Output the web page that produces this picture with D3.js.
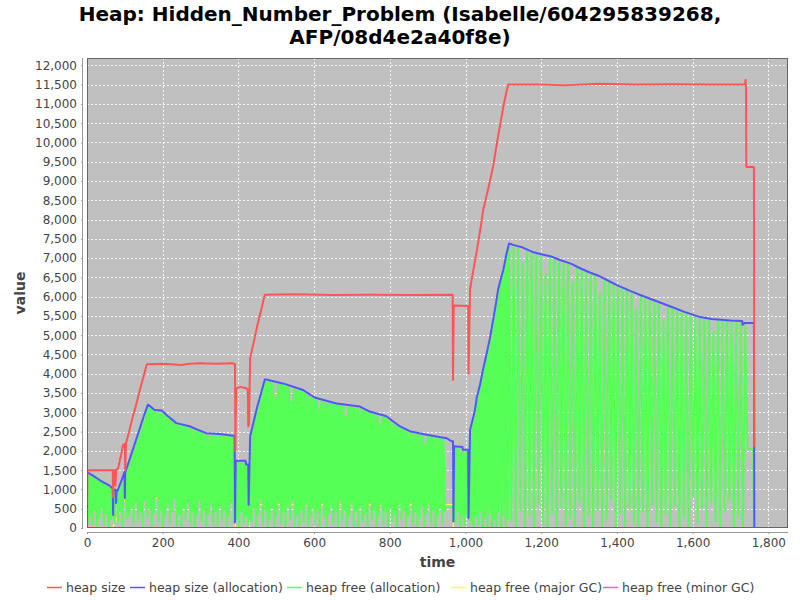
<!DOCTYPE html>
<html>
<head>
<meta charset="utf-8">
<script src="https://cdn.jsdelivr.net/npm/d3@7"></script>
<style>
  html, body { margin: 0; padding: 0; background: #ffffff; }
  svg { display: block; font-family: "DejaVu Sans", sans-serif; }
</style>
</head>
<body>
<svg id="chart" width="800" height="600"></svg>
<script>
// ---------- data (time, value) ----------
const titleLines = ["Heap: Hidden_Number_Problem (Isabelle/604295839268,", "AFP/08d4e2a40f8e)"];
const seriesNames = ["heap size", "heap size (allocation)", "heap free (allocation)", "heap free (major GC)", "heap free (minor GC)"];
const seriesColors = ["#ff5555", "#5555ff", "#55ff55", "#ffff55", "#ff55ff"];
const xTicks = [0, 200, 400, 600, 800, 1000, 1200, 1400, 1600, 1800];
const yTicks = [0,500,1000,1500,2000,2500,3000,3500,4000,4500,5000,5500,6000,6500,7000,7500,8000,8500,9000,9500,10000,10500,11000,11500,12000];

const heapSize = [[0,0],[1,1500],[68,1500],[69,800],[71,1480],[74,1500],[75,1100],[77,1500],[82,1550],[88,1800],[95,2150],[100,2180],[101,1500],[103,2200],[110,2450],[120,2850],[130,3200],[140,3600],[150,3950],[158,4250],[200,4260],[230,4240],[250,4230],[270,4260],[300,4270],[340,4260],[385,4270],[391,4250],[392,1990],[394,3620],[405,3660],[418,3630],[425,3600],[426,2630],[428,2700],[431,4400],[440,4800],[450,5250],[460,5650],[466,5900],[470,6050],[550,6060],[650,6040],[750,6050],[850,6040],[966,6050],[967,3840],[969,5770],[1007,5760],[1008,4000],[1012,6200],[1020,6650],[1030,7200],[1040,7800],[1047,8260],[1060,8800],[1073,9380],[1085,10100],[1100,10930],[1108,11300],[1113,11500],[1200,11500],[1260,11480],[1350,11520],[1450,11500],[1550,11510],[1650,11500],[1738,11500],[1740,11620],[1741,11380],[1742,9360],[1762,9360],[1763,2100]];

const heapAlloc = [[0,1450],[20,1330],[40,1200],[60,1100],[68,1020],[69,340],[70,990],[76,990],[77,650],[78,960],[80,950],[90,1200],[99,1450],[100,780],[101,1450],[110,1700],[120,2000],[130,2300],[140,2600],[150,2900],[161,3200],[179,3060],[198,3050],[210,2930],[236,2720],[271,2640],[290,2560],[315,2460],[350,2440],[386,2390],[390,2390],[391,145],[393,1745],[419,1745],[420,1650],[426,1650],[427,600],[431,2380],[440,2750],[450,3150],[460,3500],[470,3860],[518,3750],[571,3580],[597,3410],[606,3370],[659,3230],[721,3150],[747,3020],[791,2900],[826,2640],[853,2510],[897,2420],[950,2330],[963,2250],[967,2250],[968,170],[970,2120],[992,2100],[993,2030],[1007,2030],[1008,260],[1012,2550],[1020,2850],[1025,3070],[1030,3400],[1038,3700],[1045,4050],[1056,4530],[1065,4950],[1073,5400],[1080,5800],[1086,6180],[1093,6450],[1100,6700],[1108,7100],[1115,7380],[1130,7330],[1150,7280],[1180,7150],[1200,7100],[1224,7050],[1250,6950],[1280,6850],[1300,6750],[1330,6620],[1350,6550],[1380,6400],[1400,6300],[1435,6150],[1460,6050],[1500,5900],[1540,5750],[1580,5600],[1620,5470],[1650,5420],[1700,5380],[1731,5370],[1732,5270],[1738,5320],[1762,5320],[1763,0]];

const freeAlloc = [
[0,1440],[3,100],[6,1410],[9,300],[12,1390],[15,50],[18,1360],[21,450],[24,1330],[27,0],[30,1300],[33,250],[36,1270],[39,500],[42,1230],[45,80],[48,1180],[51,350],[54,1150],[57,0],[60,1100],[63,200],[66,1060],[68,300],
[69,330],[71,950],[73,100],[75,980],[77,600],[79,960],[82,150],[85,1080],[88,400],[91,1200],[94,0],[97,1350],[100,750],[102,1440],[105,200],
[108,1650],[111,300],[114,1780],[117,500],[120,1950],[123,100],[126,2100],[129,650],[132,2250],[135,200],[138,2500],[141,400],[144,2650],[147,0],[150,2850],[153,700],[156,3000],[159,250],[162,3180],[165,500],[168,3120],[171,0],[174,3080],[177,350],[180,3050],[183,800],[186,3000],[189,150],[192,3000],[195,450],[198,3020],[201,0],[204,2980],[207,300],[210,2940],[213,600],[216,2900],[219,100],[222,2850],[225,400],[228,2820],[231,750],[234,2760],[237,50],[240,2720],[243,350],[246,2700],[249,0],[252,2680],[255,500],[258,2660],[261,200],[264,2640],[267,650],[270,2620],[273,100],[276,2600],[279,400],[282,2570],[285,0],[288,2550],[291,300],[294,2530],[297,700],[300,2520],[303,150],[306,2480],[309,450],[312,2460],[315,0],[318,2440],[321,350],[324,2430],[327,600],[330,2420],[333,100],[336,2420],[339,400],[342,2420],[345,0],[348,2410],[351,550],[354,2410],[357,200],[360,2400],[363,450],[366,2400],[369,0],[372,2390],[375,300],[378,2390],[381,650],[384,2380],[387,100],[389,2360],[391,150],
[393,1730],[396,200],[399,1740],[402,0],[405,1720],[408,400],[411,1700],[414,100],[417,1680],[420,300],[423,1640],[426,50],[428,590],[431,200],
[432,2350],[435,150],[438,2600],[441,500],[444,2850],[447,0],[450,3100],[453,350],[456,3350],[459,700],[462,3550],[465,100],[468,3780],[471,450],[474,3830],[477,0],
[480,3810],[483,200],[486,3790],[489,500],[492,3780],[495,0],[498,3400],[501,300],[504,3760],[507,650],[510,3750],[513,100],[516,3730],[519,400],[522,3720],[525,0],[528,3700],[531,550],[534,3680],[537,200],[540,3300],[543,700],[546,3640],[549,50],[552,3620],[555,350],[558,3600],[561,0],[564,3580],[567,450],[570,3560],[573,150],[576,3530],[579,600],[582,3480],[585,0],[588,3440],[591,300],[594,3400],[597,500],[600,3380],[603,100],[606,3350],[609,400],[612,3100],[615,0],[618,3310],[621,650],[624,3290],[627,250],[630,3270],[633,0],[636,3250],[639,350],[642,3240],[645,550],[648,3230],[651,100],[654,3220],[657,400],[660,3210],[663,0],[666,3200],[669,700],[672,3190],[675,200],[678,3180],[681,450],[684,2900],[687,0],[690,3170],[693,300],[696,3160],[699,600],[702,3150],[705,50],[708,3140],[711,400],[714,3135],[717,0],[720,3130],[723,550],[726,3100],[729,150],[732,3070],[735,350],[738,3040],[741,0],[744,3010],[747,650],[750,2990],[753,200],[756,2970],[759,450],[762,2950],[765,0],[768,2930],[771,300],[774,2700],[777,600],[780,2900],[783,100],[786,2890],[789,400],[792,2870],[795,0],[798,2820],[801,500],[804,2770],[807,150],[810,2720],[813,350],[816,2680],[819,0],[822,2640],[825,600],[828,2610],[831,200],[834,2580],[837,450],[840,2550],[843,0],[846,2520],[849,300],[852,2490],[855,650],[858,2480],[861,100],[864,2460],[867,400],[870,2450],[873,0],[876,2430],[879,250],[882,2420],[885,550],[888,2410],[891,0],[894,2200],[897,350],[900,2390],[903,600],[906,2380],[909,100],[912,2370],[915,450],[918,2360],[921,0],[924,2350],[927,300],[930,2340],[933,500],[936,2330],[939,100],[942,2320],[945,400],[947,550],[966,550],[968,170],
[971,2080],[974,100],[977,2080],[980,400],[983,2070],[986,0],[989,2050],[992,300],[995,2000],[998,50],[1001,2000],[1004,350],[1007,260],[1010,200],
[1013,2450],[1016,100],[1019,2800],[1022,0],[1025,3050],[1028,300],[1031,3400],[1034,50],[1037,3650],[1040,400],[1043,3950],[1046,0],[1049,4200],[1052,250],[1055,4480],[1058,0],[1061,4750],[1064,350],[1067,5000],[1070,0],[1073,5350],[1076,200],[1079,5750],[1082,0],[1085,6100],[1088,400],[1091,6350],[1094,0],[1097,6600],[1100,300],[1103,6800],[1106,0],[1109,7100],[1112,200],
[1115,7350],[1121,150],[1127,7300],[1133,0],[1139,7300],[1145,450],[1151,6900],[1157,0],[1163,7230],[1169,300],[1175,7150],[1181,0],[1187,7100],[1193,600],[1199,7080],[1205,100],[1211,6600],[1217,0],[1223,7030],[1229,350],[1235,7000],[1241,0],[1247,6950],[1253,500],[1259,6900],[1265,50],[1271,6870],[1277,250],[1283,6400],[1289,0],[1295,6760],[1301,650],[1307,6720],[1313,0],[1319,6680],[1325,300],[1331,6600],[1337,0],[1343,6560],[1349,450],[1355,6100],[1361,0],[1367,6460],[1373,200],[1379,6400],[1385,700],[1391,6330],[1397,0],[1403,6290],[1409,350],[1415,6240],[1421,0],[1427,6180],[1433,500],[1439,6130],[1445,100],[1451,5700],[1457,0],[1463,6040],[1469,400],[1475,6000],[1481,0],[1487,5950],[1493,600],[1499,5900],[1505,150],[1511,5860],[1517,0],[1523,5400],[1529,350],[1535,5760],[1541,0],[1547,5720],[1553,550],[1559,5680],[1565,0],[1571,5620],[1577,250],[1583,5580],[1589,0],[1595,5540],[1601,800],[1607,5500],[1613,100],[1619,5460],[1625,500],[1631,5440],[1637,0],[1643,5420],[1649,650],[1655,5100],[1661,150],[1667,5390],[1673,0],[1679,5380],[1685,400],[1691,5370],[1697,700],[1703,5360],[1709,0],[1715,5350],[1721,300],[1727,5340],[1733,0],[1739,5250],[1745,2050],[1760,2050],[1762,0]
];

const freeMajor = [[0,10],[68,10],[102,780],[390,780],[392,0],[428,0],[432,600],[966,600],[968,0],[1762,0]];
const freeMinor = [[0,10],[68,10],[102,780],[390,780],[392,0],[428,0],[432,600],[966,600],[968,0],[1762,0]];

// ---------- layout ----------
const svg = d3.select("#chart");
const W = 800, H = 600;
const plot = { left: 87, right: 788, top: 58, bottom: 528 };
const legendX = [47, 130, 287, 451, 603];

const x = d3.scaleLinear().domain([0, 1852]).range([plot.left, plot.right]);
const y = d3.scaleLinear().domain([0, 12190]).range([plot.bottom, plot.top]);

svg.append("rect").attr("width", W).attr("height", H).attr("fill", "#ffffff");

// title
const title = svg.append("text")
  .attr("text-anchor", "middle")
  .attr("font-family", "DejaVu Sans, sans-serif")
  .attr("font-weight", "bold")
  .attr("font-size", 20)
  .attr("fill", "#000");
titleLines.forEach((t, i) => {
  title.append("tspan").attr("x", 400).attr("y", 21 + i * 23).text(t);
});

// plot background
svg.append("rect")
  .attr("x", plot.left).attr("y", plot.top)
  .attr("width", plot.right - plot.left).attr("height", plot.bottom - plot.top)
  .attr("fill", "#c0c0c0");

// grid
const grid = svg.append("g");
grid.selectAll("line.gx").data(xTicks).enter().append("line")
  .attr("x1", d => Math.round(x(d)) + 0.5).attr("x2", d => Math.round(x(d)) + 0.5)
  .attr("y1", plot.top).attr("y2", plot.bottom)
  .attr("stroke", "#ffffff").attr("stroke-opacity", 0.85)
  .attr("stroke-dasharray", "2,2").attr("stroke-width", 1);
grid.selectAll("line.gy").data(yTicks).enter().append("line")
  .attr("y1", d => Math.round(y(d)) + 0.5).attr("y2", d => Math.round(y(d)) + 0.5)
  .attr("x1", plot.left).attr("x2", plot.right)
  .attr("stroke", "#ffffff").attr("stroke-opacity", 0.85)
  .attr("stroke-dasharray", "2,2").attr("stroke-width", 1);

// clip
svg.append("clipPath").attr("id", "clip").append("rect")
  .attr("x", plot.left).attr("y", plot.top - 2)
  .attr("width", plot.right - plot.left).attr("height", plot.bottom - plot.top + 2);

const line = d3.line().x(d => x(d[0])).y(d => y(d[1]));
const data = svg.append("g").attr("clip-path", "url(#clip)");

// render order: reverse (series 0 on top)
data.append("path").datum(freeMinor).attr("d", line)
  .attr("fill", "none").attr("stroke", seriesColors[4]).attr("stroke-width", 1.5);
data.append("path").datum(freeMajor).attr("d", line)
  .attr("fill", "none").attr("stroke", seriesColors[3]).attr("stroke-width", 1.5);
data.append("path").datum(freeAlloc).attr("d", line)
  .attr("fill", "none").attr("stroke", seriesColors[2]).attr("stroke-width", 2)
  .attr("stroke-linejoin", "miter").attr("stroke-miterlimit", 2);
data.append("path").datum(heapAlloc).attr("d", line)
  .attr("fill", "none").attr("stroke", seriesColors[1]).attr("stroke-width", 2)
  .attr("stroke-linejoin", "round");
data.append("path").datum(heapSize).attr("d", line)
  .attr("fill", "none").attr("stroke", seriesColors[0]).attr("stroke-width", 2)
  .attr("stroke-linejoin", "round");

// plot outline
svg.append("rect")
  .attr("x", plot.left + 0.5).attr("y", plot.top + 0.5)
  .attr("width", plot.right - plot.left - 1).attr("height", plot.bottom - plot.top - 1)
  .attr("fill", "none").attr("stroke", "#666666").attr("stroke-width", 1);

// axes
const xAxis = d3.axisBottom(x).tickValues(xTicks).tickFormat(d3.format(",")).tickSizeInner(2).tickSizeOuter(0).tickPadding(4);
const yAxis = d3.axisLeft(y).tickValues(yTicks).tickFormat(d3.format(",")).tickSizeInner(2).tickSizeOuter(0).tickPadding(4);

const gx = svg.append("g").attr("transform", `translate(0,${plot.bottom + 4})`).call(xAxis);
gx.select(".domain").attr("d", `M${plot.left},0.5H${plot.right}`).attr("stroke", "#999");
const gy = svg.append("g").attr("transform", `translate(${plot.left - 4},0)`).call(yAxis);
gy.select(".domain").attr("d", `M-0.5,${plot.top}V${plot.bottom}`).attr("stroke", "#999");

[gx, gy].forEach(g => {
  g.selectAll(".tick line").attr("stroke", "#999");
  g.selectAll(".tick text")
    .attr("font-family", "DejaVu Sans, sans-serif")
    .attr("font-size", 12)
    .attr("fill", "#444444");
});

// axis labels
svg.append("text")
  .attr("x", (plot.left + plot.right) / 2).attr("y", 567)
  .attr("text-anchor", "middle")
  .attr("font-family", "DejaVu Sans, sans-serif")
  .attr("font-weight", "bold").attr("font-size", 14)
  .attr("fill", "#444444")
  .text("time");
svg.append("text")
  .attr("transform", `translate(25,${(plot.top + plot.bottom) / 2}) rotate(-90)`)
  .attr("text-anchor", "middle")
  .attr("font-family", "DejaVu Sans, sans-serif")
  .attr("font-weight", "bold").attr("font-size", 14)
  .attr("fill", "#444444")
  .text("value");

// legend
const legend = svg.append("g");
seriesNames.forEach((name, i) => {
  const g = legend.append("g").attr("transform", `translate(${legendX[i]},587.5)`);
  g.append("line").attr("x1", 0).attr("x2", 15).attr("y1", 0).attr("y2", 0)
    .attr("stroke", seriesColors[i]).attr("stroke-width", 1.5);
  g.append("text").attr("x", 19).attr("y", 4.5)
    .attr("font-family", "DejaVu Sans, sans-serif").attr("font-size", 12.5)
    .attr("fill", "#444444").text(name);
});
</script>
</body>
</html>
